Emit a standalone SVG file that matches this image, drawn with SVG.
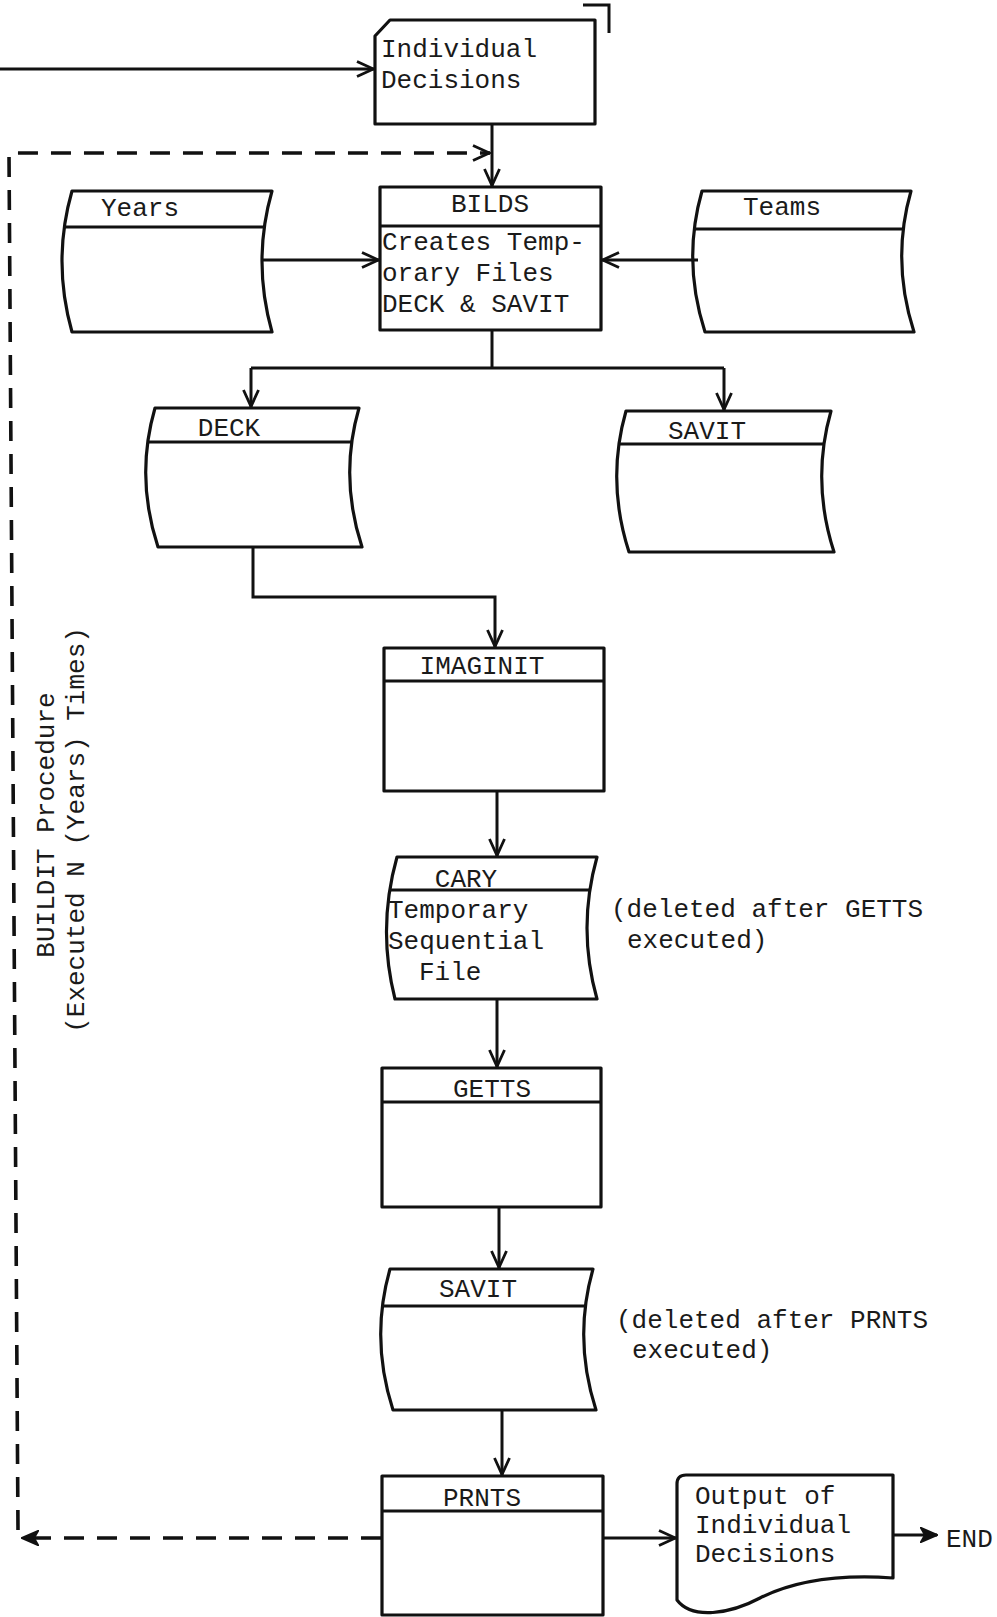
<svg xmlns="http://www.w3.org/2000/svg" width="997" height="1617" viewBox="0 0 997 1617">
<style>
.box{fill:none;stroke:#111;stroke-width:3.2;stroke-linejoin:round}
.ln{fill:none;stroke:#111;stroke-width:3}
.dash{fill:none;stroke:#111;stroke-width:3.6;stroke-dasharray:20 13}
.t{font-family:"Liberation Mono","DejaVu Sans Mono",monospace;font-size:26px;fill:#1a1a1a}
.c{text-anchor:middle}
</style>
<defs>
<marker id="open" markerUnits="userSpaceOnUse" viewBox="0 0 20 18" refX="19" refY="9" markerWidth="20" markerHeight="18" orient="auto">
<path d="M2,1.5 L18.5,9 L2,16.5" fill="none" stroke="#111" stroke-width="2.8"/>
</marker>
<marker id="fill" markerUnits="userSpaceOnUse" viewBox="0 0 18 16" refX="17" refY="8" markerWidth="18" markerHeight="16" orient="auto">
<path d="M1,1 L17,8 L1,15 L5,8 Z" fill="#111" stroke="#111" stroke-width="2"/>
</marker>
</defs>

<g id="connectors">
<path class="ln" d="M0,69 H374" marker-end="url(#open)"/>
<path class="ln" d="M492,124 V186" marker-end="url(#open)"/>
<path class="dash" d="M381,1538 H22" marker-end="url(#fill)"/>
<path class="dash" d="M18,1530 L9,153 H490" marker-end="url(#open)"/>
<path class="ln" d="M262,260 H379" marker-end="url(#open)"/>
<path class="ln" d="M698,260 H602" marker-end="url(#open)"/>
<path class="ln" d="M492,330 V368"/>
<path class="ln" d="M251,368 H724"/>
<path class="ln" d="M251,368 V407" marker-end="url(#open)"/>
<path class="ln" d="M724,368 V410" marker-end="url(#open)"/>
<path class="ln" d="M253,547 V597 H495 V647" marker-end="url(#open)"/>
<path class="ln" d="M497,791 V856" marker-end="url(#open)"/>
<path class="ln" d="M497,999 V1067" marker-end="url(#open)"/>
<path class="ln" d="M499,1207 V1268" marker-end="url(#open)"/>
<path class="ln" d="M502,1410 V1475" marker-end="url(#open)"/>
<path class="ln" d="M603,1538 H676" stroke-width="3.4" marker-end="url(#open)"/>
<path class="ln" d="M893,1535 H937" stroke-width="4.2" marker-end="url(#fill)"/>
<path class="ln" d="M583,5 H609 V33"/>
</g>

<g id="individual-decisions">
<path class="box" d="M390,20 H595 V124 H375 V36 Z"/>
<text class="t" x="381" y="57">Individual</text>
<text class="t" x="381" y="88">Decisions</text>
</g>

<g id="years">
<path class="box" d="M72,191 H272 Q252,261 272,332 H72 Q52,261 72,191 Z"/>
<path class="ln" d="M64,227 H264"/>
<text class="t c" x="140" y="216">Years</text>
</g>

<g id="teams">
<path class="box" d="M702,191 H911 Q891,261 914,332 H705 Q682,261 702,191 Z"/>
<path class="ln" d="M694,229 H903"/>
<text class="t c" x="782" y="215">Teams</text>
</g>

<g id="bilds">
<rect class="box" x="380" y="187" width="221" height="143"/>
<path class="ln" d="M380,226 H601"/>
<text class="t c" x="490" y="212">BILDS</text>
<text class="t" x="382" y="250">Creates Temp-</text>
<text class="t" x="382" y="281">orary Files</text>
<text class="t" x="382" y="312">DECK &amp; SAVIT</text>
</g>

<g id="deck">
<path class="box" d="M155,408 H359 Q339,477 362,547 H158 Q135,477 155,408 Z"/>
<path class="ln" d="M148,442 H352"/>
<text class="t c" x="229" y="436">DECK</text>
</g>

<g id="savit-top">
<path class="box" d="M626,411 H831 Q811,481 834,552 H629 Q606,481 626,411 Z"/>
<path class="ln" d="M619,444 H824"/>
<text class="t c" x="707" y="439">SAVIT</text>
</g>

<g id="imaginit">
<rect class="box" x="384" y="648" width="220" height="143"/>
<path class="ln" d="M384,681 H604"/>
<text class="t c" x="482" y="674">IMAGINIT</text>
</g>

<g id="cary">
<path class="box" d="M397,857 H597 Q577,928 597,999 H395 Q377,928 397,857 Z"/>
<path class="ln" d="M390,890 H590"/>
<text class="t c" x="466" y="887">CARY</text>
<text class="t" x="388" y="918">Temporary</text>
<text class="t" x="388" y="949">Sequential</text>
<text class="t" x="419" y="980">File</text>
</g>
<g id="note-getts">
<text class="t" x="611" y="917">(deleted after GETTS</text>
<text class="t" x="627" y="948">executed)</text>
</g>

<g id="getts">
<rect class="box" x="382" y="1068" width="219" height="139"/>
<path class="ln" d="M382,1102 H601"/>
<text class="t c" x="492" y="1097">GETTS</text>
</g>

<g id="savit-bottom">
<path class="box" d="M390,1269 H593 Q573,1339 596,1410 H393 Q370,1339 390,1269 Z"/>
<path class="ln" d="M382,1306 H585"/>
<text class="t c" x="478" y="1297">SAVIT</text>
</g>
<g id="note-prnts">
<text class="t" x="616" y="1328">(deleted after PRNTS</text>
<text class="t" x="632" y="1358">executed)</text>
</g>

<g id="prnts">
<rect class="box" x="382" y="1476" width="221" height="139"/>
<path class="ln" d="M382,1511 H603"/>
<text class="t c" x="482" y="1506">PRNTS</text>
</g>

<g id="output">
<path class="box" d="M686,1475 H893 V1578 C850,1575 800,1578 760,1598 C730,1614 692,1620 677,1600 V1484 Q677,1475 686,1475 Z"/>
<text class="t" x="695" y="1504">Output of</text>
<text class="t" x="695" y="1533">Individual</text>
<text class="t" x="695" y="1562">Decisions</text>
</g>

<g id="end">
<text class="t" x="946" y="1547">END</text>
</g>

<g id="loop-label">
<text class="t c" transform="translate(54,825) rotate(-90)">BUILDIT Procedure</text>
<text class="t c" transform="translate(84,830) rotate(-90)">(Executed N (Years) Times)</text>
</g>
</svg>
